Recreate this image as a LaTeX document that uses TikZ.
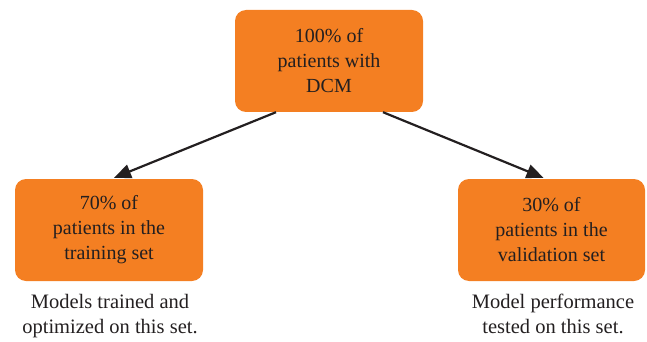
\documentclass[tikz,border=0pt]{standalone}
\usepackage{fontspec}
\setmainfont{Liberation Serif}
\usetikzlibrary{arrows.meta}
\definecolor{boxorange}{HTML}{F47F22}
\definecolor{txt}{HTML}{231F20}
\begin{document}
\begin{tikzpicture}[x=1pt,y=-1pt,
  box/.style={fill=boxorange,draw=none,rounded corners=11pt,minimum width=188pt,minimum height=102pt,
    align=center,text=txt,font=\fontsize{20}{25}\selectfont,inner sep=0pt},
  caption/.style={align=center,text=txt,font=\fontsize{20.5}{25}\selectfont,inner sep=0pt},
  arr/.style={draw=txt,line width=2.2pt,-{Triangle[length=17pt,width=14pt]}}]
\useasboundingbox (0,0) rectangle (647,342);
\node[box] (top) at (329,61) {100\% of\\patients with\\DCM};
\node[box] (left) at (109,230) {70\% of\\patients in the\\training set};
\node[box,minimum width=187pt] (right) at (551.5,230) {30\% of\\patients in the\\validation set};
\node[caption,anchor=north] (lcap) at (110,294) {Models trained and\\optimized on this set.};
\node[caption,anchor=north] (rcap) at (553,294) {Model performance\\tested on this set.};
\draw[arr] ([xshift=-53pt]top.south) -- ([xshift=5pt,yshift=1pt]left.north);
\draw[arr] ([xshift=54pt]top.south) -- ([xshift=-8pt,yshift=1pt]right.north);
\end{tikzpicture}
\end{document}
